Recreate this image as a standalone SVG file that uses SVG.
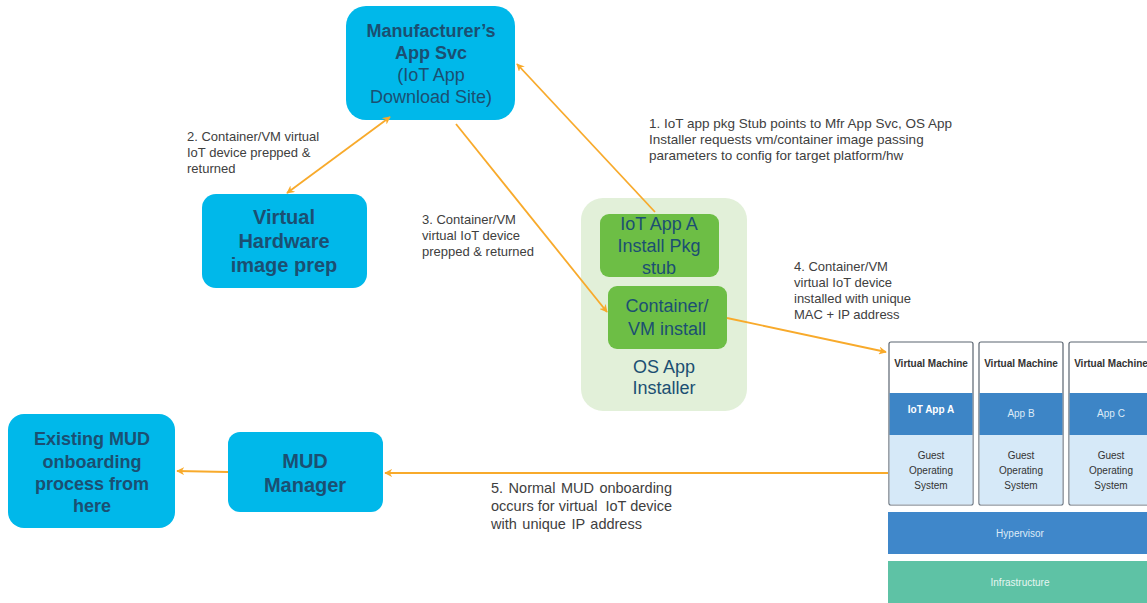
<svg xmlns="http://www.w3.org/2000/svg" width="1147" height="603" viewBox="0 0 1147 603">
<defs>
<style>
.blue{fill:#00B8EA}
.bt{font-family:"Liberation Sans",Arial,sans-serif;fill:#1B4F72;text-anchor:middle}
.b{font-weight:bold}
.lbl{font-family:"Liberation Sans",Arial,sans-serif;font-size:13px;fill:#404040}
.gt{font-family:"Liberation Sans",Arial,sans-serif;fill:#1B4F72;text-anchor:middle;font-size:18px}
.con{stroke:#F8AA2B;stroke-width:1.8;fill:none}
.vm{font-family:"Liberation Sans",Arial,sans-serif;font-size:10px;text-anchor:middle;fill:#333}
.vmf{stroke:#5A6470;stroke-width:1.2}
</style>
<marker id="ah" viewBox="0 0 10 10" refX="9" refY="5" markerWidth="8" markerHeight="8" orient="auto-start-reverse" markerUnits="userSpaceOnUse">
<path d="M0,0 L10,5 L0,10 L3,5 z" fill="#F8AA2B"/>
</marker>
</defs>
<rect width="1147" height="603" fill="#fff"/>

<g id="mfr">
<rect class="blue" x="346" y="6" width="169" height="114" rx="20"/>
<text class="bt b" x="431" y="37" font-size="18">Manufacturer’s</text>
<text class="bt b" x="431" y="59" font-size="18">App Svc</text>
<text class="bt" x="431" y="81" font-size="18">(IoT App</text>
<text class="bt" x="431" y="103" font-size="18">Download Site)</text>
</g>

<g id="vhw">
<rect class="blue" x="202" y="194" width="165" height="94" rx="14"/>
<text class="bt b" x="284" y="224" font-size="20">Virtual</text>
<text class="bt b" x="284" y="248" font-size="20">Hardware</text>
<text class="bt b" x="284" y="272" font-size="20">image prep</text>
</g>

<g id="installer">
<rect x="581" y="198" width="166" height="213" rx="22" fill="#E2F0D9"/>
<text class="gt" x="664" y="373" font-size="17">OS App</text>
<text class="gt" x="664" y="394" font-size="17">Installer</text>
</g>
<g id="stub">
<rect x="600" y="214" width="119" height="63" rx="9" fill="#6DBE45"/>
<text class="gt" x="659" y="230">IoT App A</text>
<text class="gt" x="659" y="252">Install Pkg</text>
<text class="gt" x="659" y="274">stub</text>
</g>
<g id="cvm">
<rect x="608" y="286" width="119" height="63" rx="9" fill="#6DBE45"/>
<text class="gt" x="667" y="312">Container/</text>
<text class="gt" x="667" y="335">VM install</text>
</g>

<g id="existing">
<rect class="blue" x="8" y="414" width="167" height="114" rx="16"/>
<text class="bt b" x="92" y="445" font-size="18">Existing MUD</text>
<text class="bt b" x="92" y="468" font-size="18">onboarding</text>
<text class="bt b" x="92" y="490" font-size="18">process from</text>
<text class="bt b" x="92" y="512" font-size="18">here</text>
</g>

<g id="mudmgr">
<rect class="blue" x="228" y="432" width="155" height="80" rx="12"/>
<text class="bt b" x="305" y="468" font-size="20">MUD</text>
<text class="bt b" x="305" y="492" font-size="20">Manager</text>
</g>

<g id="vmstack">
<g id="vm1">
<rect x="889" y="342" width="84" height="163" rx="2" fill="#fff" class="vmf"/>
<rect x="889.6" y="393" width="82.8" height="42" fill="#3D85C6"/>
<rect x="889.6" y="435" width="82.8" height="69.4" fill="#D6E9F8"/>
<text class="vm" x="931" y="367" font-weight="bold" fill="#1d2733">Virtual Machine</text>
<text class="vm" x="931" y="413" font-weight="bold" font-size="11" style="fill:#fff">IoT App A</text>
<text class="vm" x="931" y="459">Guest</text>
<text class="vm" x="931" y="474">Operating</text>
<text class="vm" x="931" y="489">System</text>
</g>
<g id="vm2">
<rect x="979" y="342" width="84" height="163" rx="2" fill="#fff" class="vmf"/>
<rect x="979.6" y="393" width="82.8" height="42" fill="#3D85C6"/>
<rect x="979.6" y="435" width="82.8" height="69.4" fill="#D6E9F8"/>
<text class="vm" x="1021" y="367" font-weight="bold" fill="#1d2733">Virtual Machine</text>
<text class="vm" x="1021" y="417" style="fill:#DDEBF7">App B</text>
<text class="vm" x="1021" y="459">Guest</text>
<text class="vm" x="1021" y="474">Operating</text>
<text class="vm" x="1021" y="489">System</text>
</g>
<g id="vm3">
<rect x="1069" y="342" width="84" height="163" rx="2" fill="#fff" class="vmf"/>
<rect x="1069.6" y="393" width="82.8" height="42" fill="#3D85C6"/>
<rect x="1069.6" y="435" width="82.8" height="69.4" fill="#D6E9F8"/>
<text class="vm" x="1111" y="367" font-weight="bold" fill="#1d2733">Virtual Machine</text>
<text class="vm" x="1111" y="417" style="fill:#DDEBF7">App C</text>
<text class="vm" x="1111" y="459">Guest</text>
<text class="vm" x="1111" y="474">Operating</text>
<text class="vm" x="1111" y="489">System</text>
</g>
<g id="hypervisor">
<rect x="888" y="512" width="259" height="42" fill="#3F87CA"/>
<text class="vm" x="1020" y="537" style="fill:#DDEBF7">Hypervisor</text>
</g>
<g id="infra">
<rect x="888" y="561" width="259" height="42" fill="#5EC2A5"/>
<text class="vm" x="1020" y="586" style="fill:#E6F6F1">Infrastructure</text>
</g>
</g>

<g id="connectors">
<line class="con" x1="655" y1="212" x2="517" y2="64" marker-end="url(#ah)"/>
<line class="con" x1="390" y1="117" x2="287" y2="193" marker-start="url(#ah)" marker-end="url(#ah)"/>
<line class="con" x1="456" y1="124" x2="607" y2="312" marker-end="url(#ah)"/>
<line class="con" x1="727" y1="318" x2="886" y2="352" marker-end="url(#ah)"/>
<line class="con" x1="888" y1="473" x2="385" y2="473" marker-end="url(#ah)"/>
<line class="con" x1="228" y1="472" x2="177" y2="471" marker-end="url(#ah)"/>
</g>

<g id="labels">
<text class="lbl" x="649" y="128" font-size="13.5" style="font-size:13.5px">1. IoT app pkg Stub points to Mfr App Svc, OS App</text>
<text class="lbl" x="649" y="144" style="font-size:13.5px">Installer requests vm/container image passing</text>
<text class="lbl" x="649" y="160" style="font-size:13.5px">parameters to config for target platform/hw</text>
<text class="lbl" x="187" y="141">2. Container/VM virtual</text>
<text class="lbl" x="187" y="157">IoT device prepped &amp;</text>
<text class="lbl" x="187" y="173">returned</text>
<text class="lbl" x="422" y="224">3. Container/VM</text>
<text class="lbl" x="422" y="240">virtual IoT device</text>
<text class="lbl" x="422" y="256">prepped &amp; returned</text>
<text class="lbl" x="794" y="271">4. Container/VM</text>
<text class="lbl" x="794" y="287">virtual IoT device</text>
<text class="lbl" x="794" y="303">installed with unique</text>
<text class="lbl" x="794" y="319">MAC + IP address</text>
<text class="lbl" x="491" y="493" style="font-size:14.5px;word-spacing:1.5px">5. Normal MUD onboarding</text>
<text class="lbl" x="491" y="511" style="font-size:14.5px;white-space:pre">occurs for virtual  IoT device</text>
<text class="lbl" x="491" y="529" style="font-size:14.5px;word-spacing:1.5px">with unique IP address</text>
</g>
</svg>
